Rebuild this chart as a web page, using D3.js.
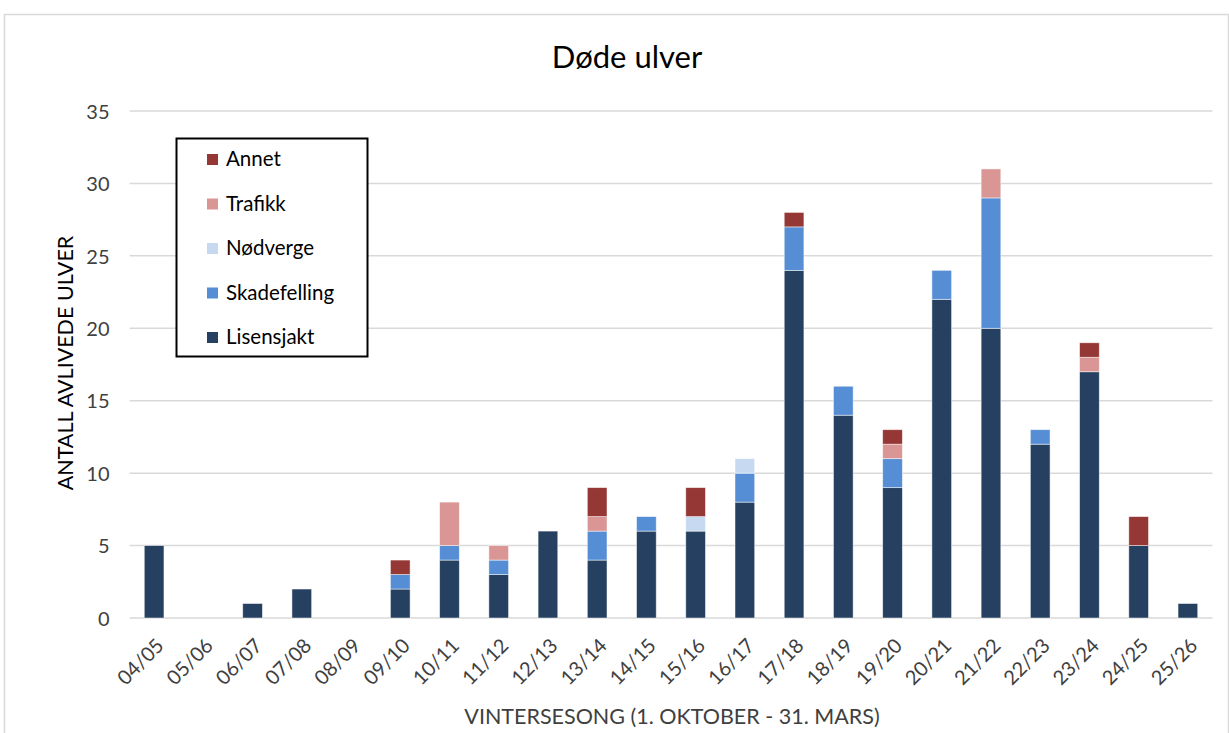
<!DOCTYPE html>
<html><head><meta charset="utf-8">
<script src="https://cdn.jsdelivr.net/npm/d3@7"></script>
<style>body{margin:0;background:#fff}svg{display:block}text{font-family:Lato,"Open Sans",sans-serif}</style>
</head><body><svg id="c" width="1229" height="733"></svg>
<script>
const seasons = ["04/05","05/06","06/07","07/08","08/09","09/10","10/11","11/12","12/13","13/14","14/15","15/16","16/17","17/18","18/19","19/20","20/21","21/22","22/23","23/24","24/25","25/26"];
const lisensjakt  = [5,0,1,2,0,2,4,3,6,4,6,6,8,24,14,9,22,20,12,17,5,1];
const skadefelling= [0,0,0,0,0,1,1,1,0,2,1,0,2,3,2,2,2,9,1,0,0,0];
const nodverge    = [0,0,0,0,0,0,0,0,0,0,0,1,1,0,0,0,0,0,0,0,0,0];
const trafikk     = [0,0,0,0,0,0,3,1,0,1,0,0,0,0,0,1,0,2,0,1,0,0];
const annet       = [0,0,0,0,0,1,0,0,0,2,0,2,0,1,0,1,0,0,0,1,2,0];
const yTicks = [0,5,10,15,20,25,30,35];
const seriesNames = ["Lisensjakt","Skadefelling","Nødverge","Trafikk","Annet"];
const seriesColors = ["#264061","#558ED5","#C6D9F1","#D99694","#953735"];

(function(){
const svg = d3.select("#c");
svg.append("rect").attr("x",4.5).attr("y",14.5).attr("width",1224).attr("height",730)
  .attr("fill","#fff").attr("stroke","#d9d9d9").attr("stroke-width",1.5);

const pl=129.5, pr=1212.5, pt=111, pb=618;
const x = d3.scaleBand().domain(seasons).range([pl,pr]).paddingInner(0.6).paddingOuter(0.3);
const y = d3.scaleLinear().domain([0,35]).range([pb,pt]);

svg.append("g").selectAll("line").data(yTicks).join("line")
  .attr("x1",pl).attr("x2",pr).attr("y1",d=>y(d)).attr("y2",d=>y(d))
  .attr("stroke","#d9d9d9").attr("stroke-width",1.5);

const yAxis = d3.axisLeft(y).tickValues(yTicks).tickSize(0).tickPadding(0);
const gy = svg.append("g").attr("transform",`translate(${pl-20},0)`).call(yAxis);
gy.select(".domain").remove();
gy.selectAll("text").attr("font-size",20).attr("fill","#404040").attr("dy","0.36em").attr("font-family","Lato");

const rows = seasons.map((s,i)=>({season:s,Lisensjakt:lisensjakt[i],Skadefelling:skadefelling[i],"Nødverge":nodverge[i],Trafikk:trafikk[i],Annet:annet[i]}));
const stack = d3.stack().keys(seriesNames)(rows);
svg.append("g").selectAll("g").data(stack).join("g")
  .attr("fill",(d,i)=>seriesColors[i])
  .selectAll("rect").data(d=>d.filter(p=>p[1]-p[0]>0)).join("rect")
  .attr("x",d=>x(d.data.season)).attr("width",x.bandwidth())
  .attr("y",d=>y(d[1])).attr("height",d=>y(d[0])-y(d[1]))
  .attr("stroke","#fff").attr("stroke-opacity",0.6).attr("stroke-width",0.8);

const xAxis = d3.axisBottom(x).tickSize(0).tickPadding(0);
const gx = svg.append("g").attr("transform",`translate(0,${pb})`).call(xAxis);
gx.select(".domain").remove();
gx.selectAll(".tick text").attr("font-size",20).attr("fill","#404040").attr("font-family","Lato")
  .attr("text-anchor","end").attr("y",0).attr("dy","0.35em")
  .attr("transform","translate(6,24) rotate(-45)");

svg.append("text").attr("x",627).attr("y",68).attr("text-anchor","middle")
  .attr("font-size",31).attr("fill","#000").text("Døde ulver");
svg.append("text").attr("transform","translate(73,363) rotate(-90)").attr("text-anchor","middle")
  .attr("font-size",21.5).attr("fill","#000").text("ANTALL AVLIVEDE ULVER");
svg.append("text").attr("x",672).attr("y",724).attr("text-anchor","middle")
  .attr("font-size",21.5).attr("fill","#404040").text("VINTERSESONG (1. OKTOBER - 31. MARS)");

const lg = svg.append("g");
lg.append("rect").attr("x",176.5).attr("y",138.5).attr("width",191).attr("height",218)
  .attr("fill","#fff").attr("stroke","#000").attr("stroke-width",2);
const legendOrder = [4,3,2,1,0];
const lrows = lg.selectAll("g").data(legendOrder).join("g")
  .attr("transform",(d,i)=>`translate(207,${159+i*44.5})`);
lrows.append("rect").attr("x",0).attr("y",-5).attr("width",11).attr("height",11).attr("fill",d=>seriesColors[d]);
lrows.append("text").attr("x",19).attr("y",0).attr("dy","0.36em").attr("font-size",20.5).attr("fill","#000").text(d=>seriesNames[d]);
})();
</script></body></html>
